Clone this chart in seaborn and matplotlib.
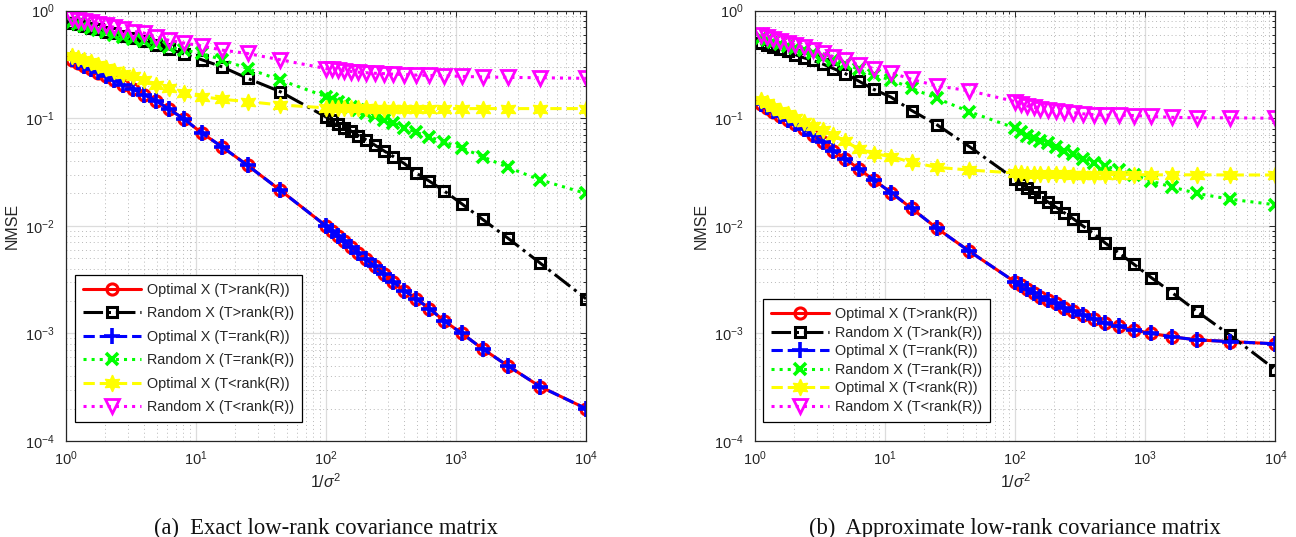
import matplotlib
matplotlib.use("Agg")
import matplotlib.pyplot as plt
import numpy as np
import pandas as pd
import seaborn as sns
from matplotlib.ticker import LogLocator, NullFormatter

# ---------------- data ----------------
X_INV_SIGMA2 = [1.108, 1.235, 1.384, 1.562, 1.778, 2.041, 2.367, 2.778, 3.306, 4.0,
                4.938, 6.25, 8.163, 11.11, 16.0, 25.0, 44.44, 100.0,
                111.1, 123.5, 138.4, 156.2, 177.8, 204.1, 236.7, 277.8, 330.6, 400.0,
                493.8, 625.0, 816.3, 1111.0, 1600.0, 2500.0, 4444.0, 10000.0]

LABELS = ["Optimal X (T>rank(R))", "Random X (T>rank(R))",
          "Optimal X (T=rank(R))", "Random X (T=rank(R))",
          "Optimal X (T<rank(R))", "Random X (T<rank(R))"]

# panel (a): exact low-rank covariance matrix
opt_gt_a = [0.35, 0.329, 0.308, 0.287, 0.266, 0.245, 0.225, 0.205, 0.186, 0.166,
            0.146, 0.121, 0.098, 0.073, 0.054, 0.0365, 0.0215, 0.0100,
            0.0090, 0.0081, 0.0072, 0.0064, 0.0056, 0.0049, 0.0042, 0.0036, 0.0030, 0.0025,
            0.0021, 0.0017, 0.0013, 0.00100, 0.00072, 0.00050, 0.00032, 0.00020]
rnd_gt_a = [0.77, 0.745, 0.72, 0.695, 0.67, 0.64, 0.615, 0.585, 0.555, 0.52,
            0.48, 0.44, 0.395, 0.35, 0.30, 0.235, 0.177, 0.103,
            0.0955, 0.089, 0.082, 0.076, 0.069, 0.063, 0.0565, 0.050, 0.044, 0.038,
            0.031, 0.026, 0.021, 0.016, 0.0115, 0.0077, 0.0045, 0.0021]
opt_eq_a = [0.355, 0.331, 0.309, 0.288, 0.267, 0.246, 0.226, 0.205, 0.186, 0.166,
            0.146, 0.121, 0.098, 0.073, 0.054, 0.0365, 0.0215, 0.0100,
            0.0090, 0.0081, 0.0072, 0.0064, 0.0056, 0.0049, 0.0042, 0.0036, 0.0030, 0.0025,
            0.0021, 0.0017, 0.0013, 0.00100, 0.00072, 0.00050, 0.00032, 0.00020]
rnd_eq_a = [0.78, 0.75, 0.72, 0.69, 0.66, 0.63, 0.60, 0.57, 0.545, 0.52,
            0.49, 0.46, 0.43, 0.40, 0.35, 0.29, 0.227, 0.159,
            0.150, 0.143, 0.135, 0.127, 0.119, 0.111, 0.104, 0.097, 0.090, 0.082,
            0.074, 0.067, 0.060, 0.053, 0.044, 0.035, 0.0267, 0.020]
opt_lt_a = [0.38, 0.36, 0.345, 0.33, 0.31, 0.295, 0.275, 0.26, 0.245, 0.227,
            0.204, 0.19, 0.171, 0.159, 0.150, 0.143, 0.133, 0.125,
            0.125, 0.124, 0.124, 0.124, 0.124, 0.124, 0.123, 0.123, 0.123, 0.123,
            0.123, 0.123, 0.123, 0.123, 0.123, 0.123, 0.123, 0.123]
rnd_lt_a = [0.85, 0.82, 0.80, 0.78, 0.76, 0.73, 0.70, 0.67, 0.64, 0.62,
            0.57, 0.53, 0.50, 0.47, 0.43, 0.40, 0.35, 0.29,
            0.285, 0.28, 0.276, 0.272, 0.268, 0.265, 0.262, 0.26, 0.257, 0.255,
            0.252, 0.25, 0.248, 0.245, 0.242, 0.24, 0.238, 0.235]

# panel (b): approximate low-rank covariance matrix
opt_gt_b = [0.135, 0.125, 0.115, 0.105, 0.097, 0.089, 0.080, 0.070, 0.060, 0.050,
            0.042, 0.034, 0.0267, 0.0204, 0.0145, 0.0095, 0.0058, 0.0030,
            0.0028, 0.0026, 0.0024, 0.0022, 0.00205, 0.0019, 0.00172, 0.0016, 0.00148, 0.00136,
            0.00124, 0.00116, 0.00108, 0.00100, 0.00093, 0.00087, 0.00084, 0.00080]
rnd_gt_b = [0.50, 0.48, 0.46, 0.44, 0.42, 0.39, 0.365, 0.345, 0.32, 0.29,
            0.26, 0.222, 0.186, 0.157, 0.118, 0.087, 0.0545, 0.027,
            0.0247, 0.0225, 0.0205, 0.0185, 0.0167, 0.015, 0.0133, 0.0117, 0.0100, 0.0085,
            0.0069, 0.0056, 0.0044, 0.0033, 0.0024, 0.0016, 0.00097, 0.00046]
opt_eq_b = [0.137, 0.126, 0.116, 0.106, 0.097, 0.089, 0.080, 0.070, 0.060, 0.050,
            0.042, 0.034, 0.0267, 0.0204, 0.0145, 0.0095, 0.0058, 0.0030,
            0.0028, 0.0026, 0.0024, 0.0022, 0.00205, 0.0019, 0.00172, 0.0016, 0.00148, 0.00136,
            0.00124, 0.00116, 0.00108, 0.00100, 0.00093, 0.00087, 0.00084, 0.00080]
rnd_eq_b = [0.56, 0.53, 0.51, 0.49, 0.47, 0.45, 0.43, 0.40, 0.375, 0.35,
            0.32, 0.285, 0.252, 0.227, 0.19, 0.153, 0.115, 0.081,
            0.074, 0.069, 0.065, 0.062, 0.0586, 0.054, 0.050, 0.0465, 0.042, 0.0385,
            0.036, 0.033, 0.030, 0.026, 0.023, 0.020, 0.0177, 0.0157]
opt_lt_b = [0.148, 0.138, 0.128, 0.118, 0.110, 0.101, 0.093, 0.085, 0.077, 0.070,
            0.061, 0.052, 0.047, 0.044, 0.039, 0.035, 0.033, 0.031,
            0.0308, 0.0306, 0.0305, 0.0304, 0.0303, 0.0302, 0.0301, 0.0300, 0.0300, 0.0300,
            0.0300, 0.0299, 0.0299, 0.0298, 0.0298, 0.0298, 0.0297, 0.0297]
rnd_lt_b = [0.60, 0.57, 0.55, 0.52, 0.50, 0.48, 0.455, 0.43, 0.40, 0.375,
            0.345, 0.315, 0.29, 0.265, 0.23, 0.20, 0.18, 0.143,
            0.135, 0.13, 0.126, 0.122, 0.119, 0.117, 0.115, 0.113, 0.110, 0.108,
            0.107, 0.107, 0.106, 0.104, 0.102, 0.101, 0.101, 0.100]

X_LABEL = "1/$\\sigma^2$"
Y_LABEL = "NMSE"
CAPTIONS = ["(a)  Exact low-rank covariance matrix",
            "(b)  Approximate low-rank covariance matrix"]

# ---------------- styles ----------------
STYLES = [
    dict(color="#FF0000", linestyle="-", marker="o", markersize=8, markeredgewidth=2.2,
         markerfacecolor="none", markeredgecolor="#FF0000"),
    dict(color="#000000", linestyle="-.", marker="s", markersize=7, markeredgewidth=2.2,
         markerfacecolor="none", markeredgecolor="#000000"),
    dict(color="#0000FF", linestyle="--", marker="+", markersize=11, markeredgewidth=2.6,
         markeredgecolor="#0000FF"),
    dict(color="#00FF00", linestyle=":", marker="x", markersize=9, markeredgewidth=2.6,
         markeredgecolor="#00FF00"),
    dict(color="#FFFF00", linestyle="--", marker=(6, 1, 0), markersize=12, markeredgewidth=1.0,
         markerfacecolor="#FFFF00", markeredgecolor="#FFFF00"),
    dict(color="#FF00FF", linestyle=":", marker="v", markersize=9.5, markeredgewidth=2.0,
         markerfacecolor="none", markeredgecolor="#FF00FF"),
]

sns.set_theme(style="white")
plt.rcParams["font.family"] = ["Liberation Sans", "DejaVu Sans"]
plt.rcParams["mathtext.fontset"] = "custom"
plt.rcParams["mathtext.rm"] = "Liberation Sans"
plt.rcParams["mathtext.it"] = "Liberation Sans:italic"
plt.rcParams["mathtext.bf"] = "Liberation Sans:bold"

fig = plt.figure(figsize=(12.96, 5.37), dpi=100)
ax_a = fig.add_axes([0.0507, 0.1788, 0.4015, 0.8013])
ax_b = fig.add_axes([0.5826, 0.1788, 0.4015, 0.8013])

panels = [
    (ax_a, [opt_gt_a, rnd_gt_a, opt_eq_a, rnd_eq_a, opt_lt_a, rnd_lt_a], (0.018, 0.0435), 0.66),
    (ax_b, [opt_gt_b, rnd_gt_b, opt_eq_b, rnd_eq_b, opt_lt_b, rnd_lt_b], (0.016, 0.045), 0.31),
]

for ax, series, anchor, lspace in panels:
    for lab, ys, st in zip(LABELS, series, STYLES):
        df = pd.DataFrame({"x": X_INV_SIGMA2, "y": ys})
        sns.lineplot(data=df, x="x", y="y", ax=ax, label=lab, linewidth=2.2,
                     estimator=None, sort=True, **st)
    ax.set_xscale("log")
    ax.set_yscale("log")
    ax.set_xlim(1, 1e4)
    ax.set_ylim(1e-4, 1)
    ax.xaxis.set_major_locator(LogLocator(base=10, numticks=10))
    ax.yaxis.set_major_locator(LogLocator(base=10, numticks=10))
    ax.xaxis.set_minor_locator(LogLocator(base=10, subs=np.arange(2, 10), numticks=50))
    ax.yaxis.set_minor_locator(LogLocator(base=10, subs=np.arange(2, 10), numticks=50))
    ax.xaxis.set_minor_formatter(NullFormatter())
    ax.yaxis.set_minor_formatter(NullFormatter())
    ax.grid(True, which="major", color="#dcdcdc", linewidth=0.9, linestyle="-")
    ax.grid(True, which="minor", color="#b8b8b8", linewidth=0.7, linestyle=(0, (1, 3)))
    ax.set_axisbelow(True)
    for sp in ax.spines.values():
        sp.set_color("#262626")
        sp.set_linewidth(0.9)
    ax.tick_params(which="both", direction="in", top=True, right=True,
                   color="#262626", width=0.7, labelsize=10.5, labelcolor="#262626")
    ax.tick_params(which="major", length=4)
    ax.tick_params(which="minor", length=2.5)
    ax.tick_params(axis="x", which="major", pad=6)
    ax.tick_params(axis="y", which="major", pad=8)
    ax.set_xlabel(X_LABEL, fontsize=11.5, color="#262626", labelpad=3)
    ax.set_ylabel(Y_LABEL, fontsize=11.5, color="#262626", labelpad=4)
    leg = ax.legend(loc="lower left", bbox_to_anchor=anchor, borderaxespad=0,
                    fontsize=10.4, handlelength=4.0, handletextpad=0.4,
                    labelspacing=lspace, borderpad=0.55, fancybox=False,
                    framealpha=1, edgecolor="#000000")
    leg.get_frame().set_linewidth(0.9)

fig.text(0.2515, 0.0168, CAPTIONS[0], ha="center", va="center",
         family="Liberation Serif", fontsize=16.3, color="#111111")
fig.text(0.7833, 0.0168, CAPTIONS[1], ha="center", va="center",
         family="Liberation Serif", fontsize=16.3, color="#111111")

fig.savefig("out.png", dpi=100)
